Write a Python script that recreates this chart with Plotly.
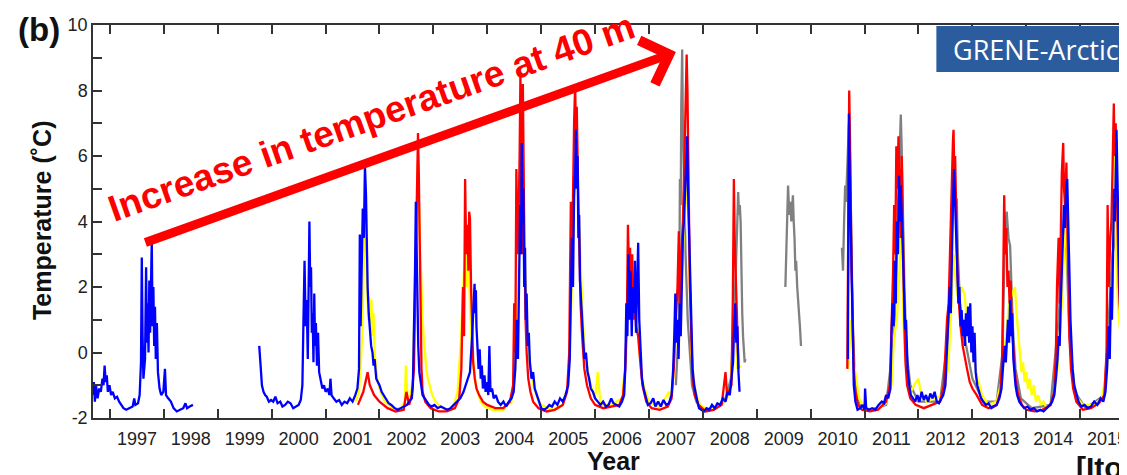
import plotly.graph_objects as go
from datetime import datetime

# ---------------- data (decimal year, temperature degC); None = gap ----------------
BLUE = [
    (1996.685, -1.3), (1996.70, -0.9), (1996.72, -1.5), (1996.74, -1.0), (1996.77, -1.4), (1996.80, -1.1),
    (1996.83, -1.2), (1996.86, -0.8), (1996.88, -1.0), (1996.90, -0.4), (1996.92, -0.9), (1996.94, -0.7),
    (1996.96, -1.2), (1996.99, -1.0), (1997.02, -1.3), (1997.05, -1.2), (1997.09, -1.4), (1997.13, -1.35),
    (1997.17, -1.5), (1997.21, -1.6), (1997.25, -1.7), (1997.30, -1.75), (1997.36, -1.7), (1997.42, -1.65),
    (1997.45, -1.4), (1997.47, -1.6), (1997.52, -1.55), (1997.55, -1.3), (1997.575, -0.3), (1997.59, 2.9),
    (1997.605, 0.5), (1997.62, -0.8), (1997.65, -0.2), (1997.67, 2.6), (1997.685, 0.3), (1997.70, 1.5),
    (1997.715, 0.0), (1997.73, 2.2), (1997.745, 0.6), (1997.76, 1.8), (1997.775, 3.4), (1997.79, 0.8),
    (1997.805, 2.0), (1997.82, 0.2), (1997.835, 1.4), (1997.85, -0.2), (1997.87, 0.9), (1997.89, -0.6),
    (1997.92, -1.1), (1997.95, -1.3), (1997.99, -1.2), (1998.02, -0.5), (1998.04, -1.3), (1998.08, -1.4),
    (1998.13, -1.5), (1998.18, -1.7), (1998.24, -1.8), (1998.30, -1.75), (1998.36, -1.7), (1998.40, -1.55),
    (1998.43, -1.7), (1998.48, -1.65), (1998.54, -1.6),
    None,
    (1999.77, 0.2), (1999.785, -0.3), (1999.80, -0.5), (1999.82, -1.0), (1999.85, -1.2), (1999.88, -1.3),
    (1999.91, -1.35), (1999.95, -1.5), (1999.99, -1.45), (2000.03, -1.5), (2000.07, -1.35), (2000.11, -1.55),
    (2000.16, -1.5), (2000.20, -1.65), (2000.25, -1.6), (2000.30, -1.5), (2000.35, -1.55), (2000.40, -1.7),
    (2000.45, -1.65), (2000.50, -1.6), (2000.54, -1.45), (2000.57, -1.0), (2000.59, 1.0), (2000.61, 2.8),
    (2000.63, 0.8), (2000.65, 1.6), (2000.67, -0.2), (2000.685, 2.5), (2000.70, 4.0), (2000.715, 2.0),
    (2000.73, 2.6), (2000.745, 0.6), (2000.76, 1.2), (2000.775, -0.3), (2000.79, 1.8), (2000.805, 0.2),
    (2000.82, 0.9), (2000.84, -0.4), (2000.86, 0.6), (2000.88, -0.6), (2000.91, -0.9), (2000.94, -1.1),
    (2000.97, -1.0), (2001.00, -1.2), (2001.04, -1.1), (2001.07, -1.3), (2001.09, -0.8), (2001.11, -1.3),
    (2001.15, -1.4), (2001.20, -1.5), (2001.25, -1.45), (2001.30, -1.6), (2001.35, -1.5), (2001.40, -1.55),
    (2001.45, -1.4), (2001.50, -1.5), (2001.55, -1.3), (2001.59, -1.1), (2001.62, -0.5), (2001.635, 3.6),
    (2001.65, 0.8), (2001.67, 2.5), (2001.69, 4.4), (2001.71, 3.5), (2001.73, 5.7), (2001.75, 4.8),
    (2001.765, 3.0), (2001.78, 2.0), (2001.80, 1.2), (2001.82, 0.6), (2001.845, 0.2), (2001.87, 0.0),
    (2001.89, -0.4), (2001.91, -0.2), (2001.94, -0.8), (2001.97, -0.9), (2002.00, -1.0), (2002.04, -1.2),
    (2002.08, -1.3), (2002.12, -1.4), (2002.17, -1.55), (2002.22, -1.6), (2002.28, -1.7), (2002.34, -1.75),
    (2002.40, -1.7), (2002.46, -1.65), (2002.51, -1.6), (2002.55, -1.5), (2002.60, -1.4), (2002.62, -1.0),
    (2002.64, 0.5), (2002.66, 2.5), (2002.675, 4.6), (2002.69, 3.0), (2002.705, 1.5), (2002.72, 0.2),
    (2002.74, -0.6), (2002.77, -1.0), (2002.80, -1.3), (2002.84, -1.4), (2002.88, -1.5), (2002.92, -1.6),
    (2002.97, -1.65), (2003.02, -1.6), (2003.08, -1.7), (2003.14, -1.65), (2003.20, -1.7), (2003.26, -1.75),
    (2003.32, -1.7), (2003.38, -1.6), (2003.44, -1.5), (2003.50, -1.4), (2003.56, -1.2), (2003.62, -0.9),
    (2003.68, -0.6), (2003.72, 0.5), (2003.75, 1.5), (2003.765, 2.1), (2003.78, 1.2), (2003.79, 1.9),
    (2003.80, 0.8), (2003.82, 0.0), (2003.84, -0.5), (2003.86, 0.1), (2003.88, -0.8), (2003.90, -0.4),
    (2003.92, -1.1), (2003.95, -0.7), (2003.97, -1.2), (2004.00, -0.9), (2004.02, -1.3), (2004.04, 0.2),
    (2004.06, -1.2), (2004.09, -1.1), (2004.12, -1.4), (2004.16, -1.3), (2004.20, -1.5), (2004.25, -1.6),
    (2004.30, -1.5), (2004.35, -1.65), (2004.40, -1.5), (2004.45, -1.4), (2004.49, -1.2), (2004.52, -0.5),
    (2004.55, 1.0), (2004.57, -0.2), (2004.59, 2.5), (2004.61, 4.5), (2004.625, 3.0), (2004.64, 6.4),
    (2004.655, 4.0), (2004.67, 5.0), (2004.685, 2.0), (2004.70, 3.2), (2004.715, 1.0), (2004.73, 1.8),
    (2004.75, 0.2), (2004.77, 0.6), (2004.79, -0.3), (2004.82, -0.8), (2004.85, -0.6), (2004.88, -1.1),
    (2004.92, -1.3), (2004.96, -1.5), (2005.00, -1.7), (2005.05, -1.75), (2005.10, -1.7), (2005.15, -1.6),
    (2005.20, -1.65), (2005.25, -1.5), (2005.30, -1.6), (2005.35, -1.4), (2005.40, -1.5), (2005.45, -1.3),
    (2005.50, -1.0), (2005.53, -0.2), (2005.55, 1.5), (2005.57, 3.5), (2005.59, 2.0), (2005.61, 4.8),
    (2005.63, 5.5), (2005.645, 6.8), (2005.66, 5.0), (2005.675, 6.0), (2005.69, 3.5), (2005.705, 4.2),
    (2005.72, 2.2), (2005.74, 1.5), (2005.76, 0.8), (2005.78, 0.3), (2005.80, -0.2), (2005.83, 0.0),
    (2005.86, -0.6), (2005.89, -0.8), (2005.92, -1.1), (2005.96, -1.2), (2006.00, -1.4), (2006.05, -1.5),
    (2006.10, -1.6), (2006.15, -1.5), (2006.20, -1.65), (2006.25, -1.6), (2006.30, -1.4), (2006.34, -1.55),
    (2006.40, -1.6), (2006.45, -1.65), (2006.50, -1.5), (2006.54, -1.3), (2006.56, -0.5), (2006.58, 1.5),
    (2006.60, 0.5), (2006.62, 3.0), (2006.64, 1.0), (2006.66, 2.5), (2006.68, 0.5), (2006.70, 2.0),
    (2006.72, 1.2), (2006.74, 2.8), (2006.76, 0.6), (2006.78, 2.2), (2006.80, 3.35), (2006.82, 1.0),
    (2006.84, 0.0), (2006.87, -0.8), (2006.90, -1.1), (2006.94, -1.4), (2006.98, -1.6), (2007.03, -1.55),
    (2007.08, -1.4), (2007.12, -1.65), (2007.17, -1.5), (2007.22, -1.65), (2007.27, -1.45), (2007.32, -1.6),
    (2007.37, -1.55), (2007.42, -1.3), (2007.45, -0.5), (2007.47, 0.5), (2007.49, 1.8), (2007.51, 0.3),
    (2007.53, 1.0), (2007.55, -0.2), (2007.57, 1.5), (2007.59, 0.5), (2007.61, 2.5), (2007.63, 3.5),
    (2007.65, 4.0), (2007.67, 5.0), (2007.69, 6.0), (2007.71, 6.6), (2007.725, 5.0), (2007.74, 4.0),
    (2007.755, 2.5), (2007.77, 1.5), (2007.79, 0.5), (2007.81, -0.5), (2007.84, -1.0), (2007.87, -1.3),
    (2007.90, -1.5), (2007.93, -1.7), (2007.97, -1.75), (2008.02, -1.8), (2008.07, -1.7), (2008.12, -1.75),
    (2008.17, -1.6), (2008.22, -1.7), (2008.27, -1.55), (2008.32, -1.6), (2008.37, -1.4), (2008.42, -1.5),
    (2008.46, -1.2), (2008.50, -1.3), (2008.53, -0.8), (2008.56, -0.3), (2008.58, 0.8), (2008.60, 1.5),
    (2008.62, 0.3), (2008.64, 0.8), (2008.66, -0.6), (2008.68, -1.2),
    None,
    (2010.69, -0.2), (2010.70, 3.0), (2010.71, 7.3), (2010.725, 5.5), (2010.74, 4.0), (2010.755, 2.5),
    (2010.77, 1.0), (2010.785, -0.3), (2010.80, -1.0), (2010.83, -1.5), (2010.87, -1.75), (2010.92, -1.7),
    (2010.96, -1.6), (2011.00, -1.75), (2011.01, -1.1), (2011.03, -1.7), (2011.08, -1.75), (2011.14, -1.7),
    (2011.20, -1.75), (2011.26, -1.6), (2011.32, -1.5), (2011.36, -1.55), (2011.40, -1.3), (2011.44, -1.4),
    (2011.48, -1.1), (2011.50, 0.5), (2011.52, 1.5), (2011.54, 0.8), (2011.56, 2.8), (2011.58, 1.5),
    (2011.60, 4.0), (2011.62, 3.0), (2011.64, 5.4), (2011.655, 4.0), (2011.67, 5.1), (2011.69, 4.2),
    (2011.705, 3.2), (2011.72, 2.5), (2011.74, 1.5), (2011.755, 0.7), (2011.77, 1.0), (2011.785, 0.0),
    (2011.80, -0.5), (2011.83, -1.0), (2011.86, -1.3), (2011.90, -1.4), (2011.94, -1.5), (2011.98, -1.3),
    (2012.02, -1.5), (2012.06, -1.2), (2012.10, -1.45), (2012.14, -1.3), (2012.18, -1.5), (2012.22, -1.25),
    (2012.26, -1.4), (2012.30, -1.2), (2012.34, -1.5), (2012.38, -1.55), (2012.42, -1.4), (2012.46, -1.3),
    (2012.50, -1.0), (2012.53, 0.3), (2012.56, 1.0), (2012.58, 2.0), (2012.60, 1.2), (2012.62, 3.5),
    (2012.64, 4.6), (2012.66, 5.6), (2012.68, 4.5), (2012.70, 3.5), (2012.72, 2.5), (2012.74, 1.5),
    (2012.76, 2.0), (2012.78, 0.8), (2012.80, 1.3), (2012.82, 0.5), (2012.84, 1.0), (2012.86, 0.2),
    (2012.88, 1.2), (2012.90, 0.5), (2012.92, 1.4), (2012.94, 0.3), (2012.96, 1.5), (2012.98, 0.0),
    (2013.00, 0.8), (2013.02, -0.3), (2013.04, 0.6), (2013.06, -0.6), (2013.09, -1.0), (2013.12, -1.2),
    (2013.16, -1.4), (2013.20, -1.5), (2013.25, -1.6), (2013.30, -1.55), (2013.35, -1.7), (2013.40, -1.65),
    (2013.45, -1.6), (2013.50, -1.4), (2013.54, -1.1), (2013.57, -0.4), (2013.60, 0.2), (2013.62, -0.3),
    (2013.64, 0.5), (2013.66, 1.0), (2013.68, 0.3), (2013.70, 1.6), (2013.72, 0.5), (2013.74, 1.2),
    (2013.76, -0.2), (2013.78, -0.6), (2013.80, -1.0), (2013.83, -1.3), (2013.87, -1.5), (2013.91, -1.6),
    (2013.96, -1.7), (2014.02, -1.65), (2014.08, -1.75), (2014.14, -1.7), (2014.20, -1.8), (2014.26, -1.75),
    (2014.32, -1.8), (2014.38, -1.7), (2014.44, -1.6), (2014.48, -1.5), (2014.52, -1.3), (2014.55, -0.8),
    (2014.58, -0.2), (2014.60, 0.5), (2014.62, 0.2), (2014.64, 1.5), (2014.66, 2.5), (2014.68, 3.5),
    (2014.70, 4.5), (2014.72, 3.8), (2014.74, 5.0), (2014.76, 5.3), (2014.78, 4.2), (2014.80, 2.5),
    (2014.82, 1.0), (2014.84, 0.2), (2014.86, -0.5), (2014.89, -1.0), (2014.93, -1.3), (2014.97, -1.5),
    (2015.02, -1.65), (2015.08, -1.6), (2015.14, -1.7), (2015.20, -1.65), (2015.26, -1.5), (2015.32, -1.6),
    (2015.38, -1.4), (2015.43, -1.5), (2015.47, -1.2), (2015.50, -0.5), (2015.53, 0.8), (2015.55, -0.2),
    (2015.57, 2.0), (2015.59, 1.0), (2015.61, 3.0), (2015.63, 5.0), (2015.645, 4.0), (2015.66, 6.0),
    (2015.675, 6.8), (2015.69, 5.5), (2015.705, 4.0), (2015.72, 2.5), (2015.74, 1.5), (2015.76, 0.5),
    (2015.78, 0.0), (2015.80, -0.3), (2015.83, -0.5), (2015.86, -0.9), (2015.90, -1.2), (2015.94, -1.3),
]

RED = [
    (2001.60, -1.6), (2001.70, -1.2), (2001.78, -0.6), (2001.82, -1.0), (2001.90, -1.3), (2002.00, -1.5),
    (2002.15, -1.7), (2002.30, -1.8), (2002.45, -1.75), (2002.50, -1.2), (2002.55, -1.6), (2002.60, -1.3),
    (2002.64, -0.5), (2002.66, 1.5), (2002.68, 4.0), (2002.70, 6.4), (2002.715, 6.7), (2002.73, 5.5),
    (2002.745, 3.0), (2002.76, 1.0), (2002.78, -0.5), (2002.80, -1.2), (2002.85, -1.5), (2002.95, -1.7),
    (2003.10, -1.8), (2003.25, -1.8), (2003.40, -1.7), (2003.48, -1.4), (2003.52, -0.5), (2003.55, 2.0),
    (2003.57, 0.5), (2003.59, 5.3), (2003.61, 3.0), (2003.635, 3.9), (2003.65, 2.5), (2003.665, 4.3),
    (2003.68, 4.1), (2003.70, 2.0), (2003.72, 0.5), (2003.74, -0.3), (2003.77, -0.8), (2003.80, -1.1),
    (2003.85, -1.3), (2003.92, -1.5), (2004.00, -1.6), (2004.15, -1.7), (2004.30, -1.7), (2004.42, -1.5),
    (2004.48, -1.0), (2004.50, 1.5), (2004.52, 0.0), (2004.54, 5.6), (2004.56, 3.0), (2004.58, 4.0),
    (2004.60, 6.0), (2004.615, 8.5), (2004.63, 5.0), (2004.645, 3.0), (2004.66, 8.2), (2004.675, 5.0),
    (2004.69, 3.0), (2004.71, 1.0), (2004.73, 0.0), (2004.76, -0.8), (2004.80, -1.2), (2004.85, -1.5),
    (2004.95, -1.7), (2005.10, -1.8), (2005.25, -1.75), (2005.40, -1.6), (2005.48, -1.2), (2005.52, 0.0),
    (2005.55, 4.6), (2005.57, 2.5), (2005.59, 5.5), (2005.61, 7.0), (2005.63, 8.2), (2005.645, 6.5),
    (2005.66, 7.5), (2005.675, 5.5), (2005.69, 4.5), (2005.71, 3.0), (2005.73, 1.5), (2005.76, 0.5),
    (2005.80, -0.5), (2005.85, -1.0), (2005.92, -1.4), (2006.00, -1.6), (2006.15, -1.7), (2006.30, -1.65),
    (2006.45, -1.6), (2006.52, -1.3), (2006.56, -0.5), (2006.59, 1.0), (2006.61, 3.9), (2006.63, 2.5),
    (2006.65, 3.2), (2006.67, 1.5), (2006.69, 3.0), (2006.71, 1.0), (2006.73, 2.0), (2006.76, 0.8),
    (2006.80, 0.5), (2006.84, -0.3), (2006.88, -1.0), (2006.95, -1.5), (2007.05, -1.7), (2007.20, -1.75),
    (2007.35, -1.65), (2007.42, -1.4), (2007.46, -0.5), (2007.50, 1.0), (2007.53, 2.0), (2007.555, 3.7),
    (2007.57, 1.5), (2007.60, 3.0), (2007.63, 4.0), (2007.66, 6.0), (2007.68, 7.5), (2007.70, 9.1),
    (2007.715, 8.0), (2007.73, 6.5), (2007.745, 4.0), (2007.76, 2.0), (2007.78, 0.5), (2007.81, -0.8),
    (2007.85, -1.3), (2007.92, -1.6), (2008.05, -1.8), (2008.20, -1.75), (2008.35, -1.6), (2008.42, -0.6),
    (2008.45, -1.3), (2008.50, -1.1), (2008.53, -1.0), (2008.555, 1.5), (2008.575, 5.3), (2008.59, 3.5),
    (2008.605, 2.5), (2008.62, 1.5), (2008.64, 0.5), (2008.66, -0.5),
    None,
    (2010.68, -0.5), (2010.70, 3.0), (2010.715, 8.0), (2010.73, 6.5), (2010.745, 4.0), (2010.76, 2.5),
    (2010.78, 1.0), (2010.80, -0.5), (2010.83, -1.2), (2010.88, -1.6), (2010.95, -1.75), (2011.10, -1.8),
    (2011.25, -1.75), (2011.40, -1.5), (2011.47, -1.0), (2011.50, 0.5), (2011.53, 2.5), (2011.55, 4.5),
    (2011.57, 3.0), (2011.59, 6.3), (2011.61, 5.0), (2011.63, 6.6), (2011.65, 5.0), (2011.67, 3.5),
    (2011.69, 6.0), (2011.705, 4.0), (2011.72, 2.0), (2011.74, 0.8), (2011.76, -0.3), (2011.79, -1.0),
    (2011.85, -1.4), (2011.95, -1.6), (2012.10, -1.7), (2012.25, -1.6), (2012.40, -1.5), (2012.47, -1.0),
    (2012.50, 0.3), (2012.53, 1.0), (2012.56, 1.5), (2012.58, 3.0), (2012.60, 4.5), (2012.62, 5.5),
    (2012.64, 6.5), (2012.65, 6.8), (2012.665, 5.5), (2012.68, 6.0), (2012.70, 4.0), (2012.72, 2.5),
    (2012.75, 1.5), (2012.78, 0.8), (2012.82, 0.2), (2012.86, -0.2), (2012.90, -0.5), (2012.95, -0.9),
    (2013.00, -1.1), (2013.08, -1.3), (2013.18, -1.6), (2013.30, -1.7), (2013.45, -1.6), (2013.52, -1.2),
    (2013.55, -0.3), (2013.57, 2.0), (2013.59, 4.8), (2013.61, 3.0), (2013.63, 3.8), (2013.65, 2.0),
    (2013.67, 2.5), (2013.69, 1.5), (2013.71, 2.2), (2013.73, 0.8), (2013.76, 0.0), (2013.80, -0.8),
    (2013.85, -1.3), (2013.92, -1.6), (2014.00, -1.75), (2014.15, -1.8), (2014.30, -1.75), (2014.45, -1.6),
    (2014.52, -1.2), (2014.55, 0.0), (2014.57, 2.0), (2014.60, 3.5), (2014.62, 1.5), (2014.64, 4.0),
    (2014.66, 5.5), (2014.685, 6.4), (2014.70, 5.0), (2014.72, 4.5), (2014.745, 5.8), (2014.76, 4.0),
    (2014.78, 2.0), (2014.80, 0.5), (2014.83, -0.5), (2014.87, -1.1), (2014.93, -1.5), (2015.05, -1.75),
    (2015.20, -1.7), (2015.35, -1.55), (2015.45, -1.3), (2015.49, 0.0), (2015.51, 4.5), (2015.53, 2.0),
    (2015.56, 3.5), (2015.58, 4.0), (2015.60, 5.5), (2015.625, 7.6), (2015.64, 6.0), (2015.66, 7.0),
    (2015.68, 5.0), (2015.70, 3.0), (2015.72, 2.0), (2015.75, 1.0), (2015.78, 0.3), (2015.83, -0.3),
    (2015.88, -0.9), (2015.94, -1.2),
]

YELLOW = [
    (2001.55, -1.5), (2001.62, -1.2), (2001.68, 0.5), (2001.71, 2.5), (2001.735, 4.7), (2001.75, 3.5),
    (2001.77, 2.0), (2001.79, 1.0), (2001.81, 1.7), (2001.83, 0.8), (2001.85, 1.6), (2001.87, 0.5),
    (2001.89, 1.2), (2001.91, 0.0), (2001.94, -0.5), (2001.97, -0.9), (2002.02, -1.2), (2002.10, -1.5),
    (2002.25, -1.7), (2002.40, -1.7), (2002.47, -1.5), (2002.49, -0.4), (2002.52, -1.4), (2002.58, -1.3),
    (2002.62, -0.8), (2002.65, 1.0), (2002.67, 3.0), (2002.69, 4.5), (2002.71, 5.8), (2002.725, 4.8),
    (2002.74, 4.0), (2002.76, 2.5), (2002.78, 1.8), (2002.80, 1.0), (2002.82, 0.5), (2002.84, 0.0),
    (2002.87, -0.5), (2002.90, -0.8), (2002.94, -1.1), (2002.98, -1.3), (2003.04, -1.5), (2003.10, -1.6),
    (2003.18, -1.7), (2003.26, -1.75), (2003.34, -1.7), (2003.40, -1.5), (2003.45, -1.2), (2003.48, -0.5),
    (2003.51, 0.3), (2003.54, 1.5), (2003.57, 2.5), (2003.60, 3.0), (2003.62, 2.0), (2003.64, 2.8),
    (2003.66, 2.5), (2003.68, 1.5), (2003.70, 0.5), (2003.72, 0.0), (2003.75, -0.5), (2003.78, -0.9),
    (2003.82, -1.2), (2003.88, -1.5), (2003.95, -1.65), (2004.10, -1.75), (2004.30, -1.75), (2004.45, -1.5),
    (2004.52, -0.5), (2004.56, 2.0), (2004.60, 4.0), (2004.63, 5.5), (2004.66, 6.1), (2004.68, 4.0),
    (2004.70, 2.5), (2004.72, 1.5), (2004.75, 0.5), (2004.78, -0.2), (2004.82, -0.7), (2004.87, -1.1),
    (2004.93, -1.4), (2005.00, -1.6), (2005.20, -1.75), (2005.40, -1.6), (2005.50, -1.0), (2005.55, 1.0),
    (2005.60, 4.0), (2005.64, 6.0), (2005.67, 5.5), (2005.70, 4.0), (2005.73, 2.5), (2005.76, 1.5),
    (2005.79, 0.5), (2005.83, -0.2), (2005.88, -0.7), (2005.94, -1.1), (2006.00, -1.4), (2006.05, -0.6),
    (2006.10, -1.6), (2006.30, -1.6), (2006.50, -1.4), (2006.58, 0.0), (2006.62, 2.0), (2006.66, 1.5),
    (2006.70, 1.0), (2006.75, 1.5), (2006.80, 0.5), (2006.85, -0.5), (2006.90, -1.0), (2007.00, -1.5),
    (2007.20, -1.7), (2007.37, -1.2), (2007.40, -1.5), (2007.45, -0.8), (2007.50, 0.5), (2007.55, 1.0),
    (2007.60, 2.0), (2007.65, 4.0), (2007.70, 5.5), (2007.73, 4.0), (2007.76, 1.5), (2007.79, 0.0),
    (2007.83, -0.8), (2007.88, -1.3), (2007.95, -1.6), (2008.10, -1.75), (2008.30, -1.65), (2008.45, -1.4),
    (2008.52, -1.0), (2008.56, 0.5), (2008.58, 1.5), (2008.60, 0.8), (2008.64, -0.5), (2008.70, -0.4),
    None,
    (2010.70, -0.5), (2010.75, 1.0), (2010.80, -0.3), (2010.85, -0.9), (2010.90, -1.4), (2011.00, -1.7),
    (2011.20, -1.75), (2011.40, -1.55), (2011.50, -1.0), (2011.55, 0.5), (2011.60, 1.0), (2011.65, 2.5),
    (2011.68, 4.7), (2011.70, 3.5), (2011.72, 1.0), (2011.75, 0.0), (2011.80, -0.8), (2011.86, -1.2),
    (2011.92, -1.0), (2012.00, -0.8), (2012.05, -1.3), (2012.15, -1.5), (2012.30, -1.4), (2012.45, -1.3),
    (2012.55, -0.5), (2012.60, 1.0), (2012.65, 3.0), (2012.70, 2.0), (2012.75, 1.5), (2012.80, 2.0),
    (2012.85, 1.8), (2012.90, 1.0), (2012.95, 0.5), (2013.00, 0.0), (2013.05, -0.4), (2013.10, -0.8),
    (2013.18, -1.3), (2013.30, -1.6), (2013.45, -1.5), (2013.55, -0.8), (2013.62, 0.5), (2013.68, 1.5),
    (2013.74, 1.8), (2013.79, 2.0), (2013.82, 1.2), (2013.85, 0.5), (2013.88, -0.2), (2013.91, -0.6),
    (2013.94, -0.3), (2013.97, -0.9), (2014.00, -0.6), (2014.03, -1.1), (2014.06, -0.8), (2014.10, -1.3),
    (2014.14, -1.0), (2014.18, -1.5), (2014.22, -1.3), (2014.27, -1.6), (2014.32, -1.5), (2014.38, -1.7),
    (2014.45, -1.6), (2014.52, -1.3), (2014.58, -0.5), (2014.62, 0.5), (2014.66, 1.5), (2014.70, 3.0),
    (2014.74, 4.0), (2014.77, 2.5), (2014.80, 1.0), (2014.84, -0.2), (2014.88, -0.9), (2014.95, -1.4),
    (2015.05, -1.6), (2015.25, -1.6), (2015.40, -1.4), (2015.50, -0.5), (2015.55, 0.5), (2015.60, 1.5),
    (2015.62, 4.0), (2015.64, 6.0), (2015.67, 3.0), (2015.70, 1.5), (2015.75, 0.5), (2015.83, -0.2),
    (2015.94, -1.0),
]

GRAY = [
    (2007.50, -1.0), (2007.56, 1.0), (2007.575, 5.3), (2007.59, 4.5), (2007.60, 7.5), (2007.617, 9.25),
    (2007.63, 7.0), (2007.65, 5.0), (2007.68, 3.0), (2007.72, 1.0), (2007.76, 0.0), (2007.80, -1.0),
    (2007.88, -1.5), (2008.00, -1.75), (2008.20, -1.7), (2008.40, -1.5), (2008.52, -0.8), (2008.58, 1.0),
    (2008.62, 3.0), (2008.655, 4.9), (2008.67, 4.2), (2008.685, 4.5), (2008.70, 4.0), (2008.71, 2.5),
    (2008.72, 1.8), (2008.73, 1.2), (2008.745, 0.5), (2008.76, 0.0), (2008.775, -0.3), (2008.79, -0.2),
    None,
    (2009.53, 2.0), (2009.55, 3.5), (2009.565, 4.1), (2009.58, 5.1), (2009.595, 4.5), (2009.61, 4.2),
    (2009.625, 4.6), (2009.64, 4.0), (2009.655, 4.4), (2009.67, 4.8), (2009.685, 4.0), (2009.70, 3.5),
    (2009.716, 2.5), (2009.73, 2.8), (2009.75, 2.0), (2009.765, 1.5), (2009.78, 1.0), (2009.80, 0.8),
    (2009.82, 0.2),
    None,
    (2010.58, 3.2), (2010.60, 2.5), (2010.62, 4.0), (2010.64, 5.1), (2010.655, 4.6), (2010.67, 5.2),
    (2010.69, 6.3), (2010.71, 7.0), (2010.73, 6.0), (2010.75, 3.5), (2010.78, 1.0), (2010.82, -0.8),
    (2010.90, -1.6), (2011.10, -1.75), (2011.40, -1.6), (2011.55, 0.5), (2011.62, 4.5), (2011.66, 6.0),
    (2011.673, 7.27), (2011.69, 6.2), (2011.71, 4.5), (2011.74, 2.0), (2011.78, 0.0), (2011.85, -1.0),
    (2012.00, -1.5), (2012.40, -1.5), (2012.55, 0.5), (2012.62, 4.0), (2012.66, 5.5), (2012.69, 4.5),
    (2012.71, 4.7), (2012.73, 3.0), (2012.77, 1.5), (2012.85, 0.5), (2013.00, -0.8), (2013.20, -1.5),
    (2013.45, -1.5), (2013.56, 0.0), (2013.60, 3.5), (2013.636, 4.3), (2013.65, 3.8), (2013.67, 3.5),
    (2013.70, 3.25), (2013.72, 2.0), (2013.75, 0.8), (2013.80, -0.5), (2013.90, -1.4), (2014.10, -1.7),
    (2014.45, -1.6), (2014.60, 1.0), (2014.70, 4.0), (2014.75, 3.0), (2014.80, 0.5), (2014.90, -1.2),
    (2015.10, -1.7), (2015.45, -1.3), (2015.60, 3.0), (2015.70, 4.0), (2015.75, 3.5), (2015.766, 2.3),
    (2015.78, 1.5), (2015.80, 2.0), (2015.83, 1.0), (2015.88, 0.5), (2015.94, -0.3),
]

Y_TICKS = list(range(-2, 11))
Y_LABELS = [str(v) if v % 2 == 0 else "" for v in Y_TICKS]
X_START, X_END = 1996.685, 2015.944


def to_date(y):
    yr = int(y)
    a = datetime(yr, 1, 1)
    b = datetime(yr + 1, 1, 1)
    return a + (b - a) * (y - yr)


def unpack(series):
    xs, ys = [], []
    for p in series:
        if p is None:
            xs.append(None)
            ys.append(None)
        else:
            xs.append(to_date(p[0]))
            ys.append(p[1])
    return xs, ys


fig = go.Figure()
for data, color in [(GRAY, "rgb(128,128,128)"), (YELLOW, "rgb(255,255,0)"),
                    (RED, "rgb(255,0,0)"), (BLUE, "rgb(0,0,255)")]:
    xs, ys = unpack(data)
    fig.add_trace(go.Scatter(x=xs, y=ys, mode="lines", line=dict(color=color, width=2.3),
                             connectgaps=False, showlegend=False, hoverinfo="skip"))

# The page shows the figure offset by the body margin (8 px); positions below are page pixels.
OFF = 8
W, H = 1127, 475
L, R, T, B = 85, 2, 17, 65
pw, ph = W - L - R, H - T - B


def px(x):
    return (x - OFF - L) / pw


def py(y):
    return (H - B - (y - OFF)) / ph


axis_col = "#333333"
fig.update_layout(
    width=W, height=H,
    margin=dict(l=L, r=R, t=T, b=B),
    paper_bgcolor="white", plot_bgcolor="white",
    font=dict(family="Liberation Sans, Arial, sans-serif", color="#222222"),
    xaxis=dict(
        type="date", range=[to_date(X_START), to_date(X_END)],
        tick0="1997-01-01", dtick="M12", tickformat="%Y", ticklabelmode="period",
        ticks="inside", ticklen=9, tickwidth=1.5, tickcolor=axis_col,
        showline=True, linecolor=axis_col, linewidth=1.5, mirror="ticks",
        showgrid=False, zeroline=False, tickfont=dict(size=18, color="#222"),
        ticklabelstandoff=4,
    ),
    yaxis=dict(
        range=[-2, 10], tickvals=Y_TICKS, ticktext=Y_LABELS,
        ticks="inside", ticklen=9, tickwidth=1.5, tickcolor=axis_col,
        showline=True, linecolor=axis_col, linewidth=1.5, mirror="ticks",
        showgrid=False, zeroline=False, tickfont=dict(size=18, color="#222"),
        ticklabelstandoff=0,
    ),
)

# GRENE-Arctic badge
fig.add_shape(type="rect", xref="paper", yref="paper",
              x0=px(938), x1=px(1140), y0=py(72), y1=py(26),
              fillcolor="#2b5c9e", line=dict(width=0), layer="above")

ann = [
    dict(text="<b>(b)</b>", x=px(39), y=py(30), font=dict(size=33, color="#111")),
    dict(text="<b>Temperature (˚C)</b>", x=px(42), y=py(220), textangle=-90,
         font=dict(size=25, color="#111")),
    dict(text="<b>Year</b>", x=px(615), y=py(461), font=dict(size=25, color="#111")),
    dict(text="<b>[Ito et al.]</b>", x=px(1076), y=py(468), xanchor="left",
         font=dict(size=30, color="#111")),
    dict(text="GRENE-Arctic", x=px(1038), y=py(49),
         font=dict(size=27, color="white", family="Open Sans, Noto Sans, sans-serif")),
    dict(text="<b>Increase in temperature at 40 m</b>", x=px(372), y=py(118), textangle=-19.5,
         font=dict(size=37, color="rgb(255,0,0)")),
]
for a in ann:
    a.setdefault("xanchor", "center")
    fig.add_annotation(xref="paper", yref="paper", showarrow=False, yanchor="middle", **a)

# red arrow
fig.add_annotation(xref="paper", yref="paper", x=px(677), y=py(52), ax=145 - 677, ay=243 - 52,
                   axref="pixel", ayref="pixel", text="", showarrow=True,
                   arrowhead=4, arrowsize=1, arrowwidth=9, arrowcolor="rgb(255,0,0)")

fig.write_html("out.html")
